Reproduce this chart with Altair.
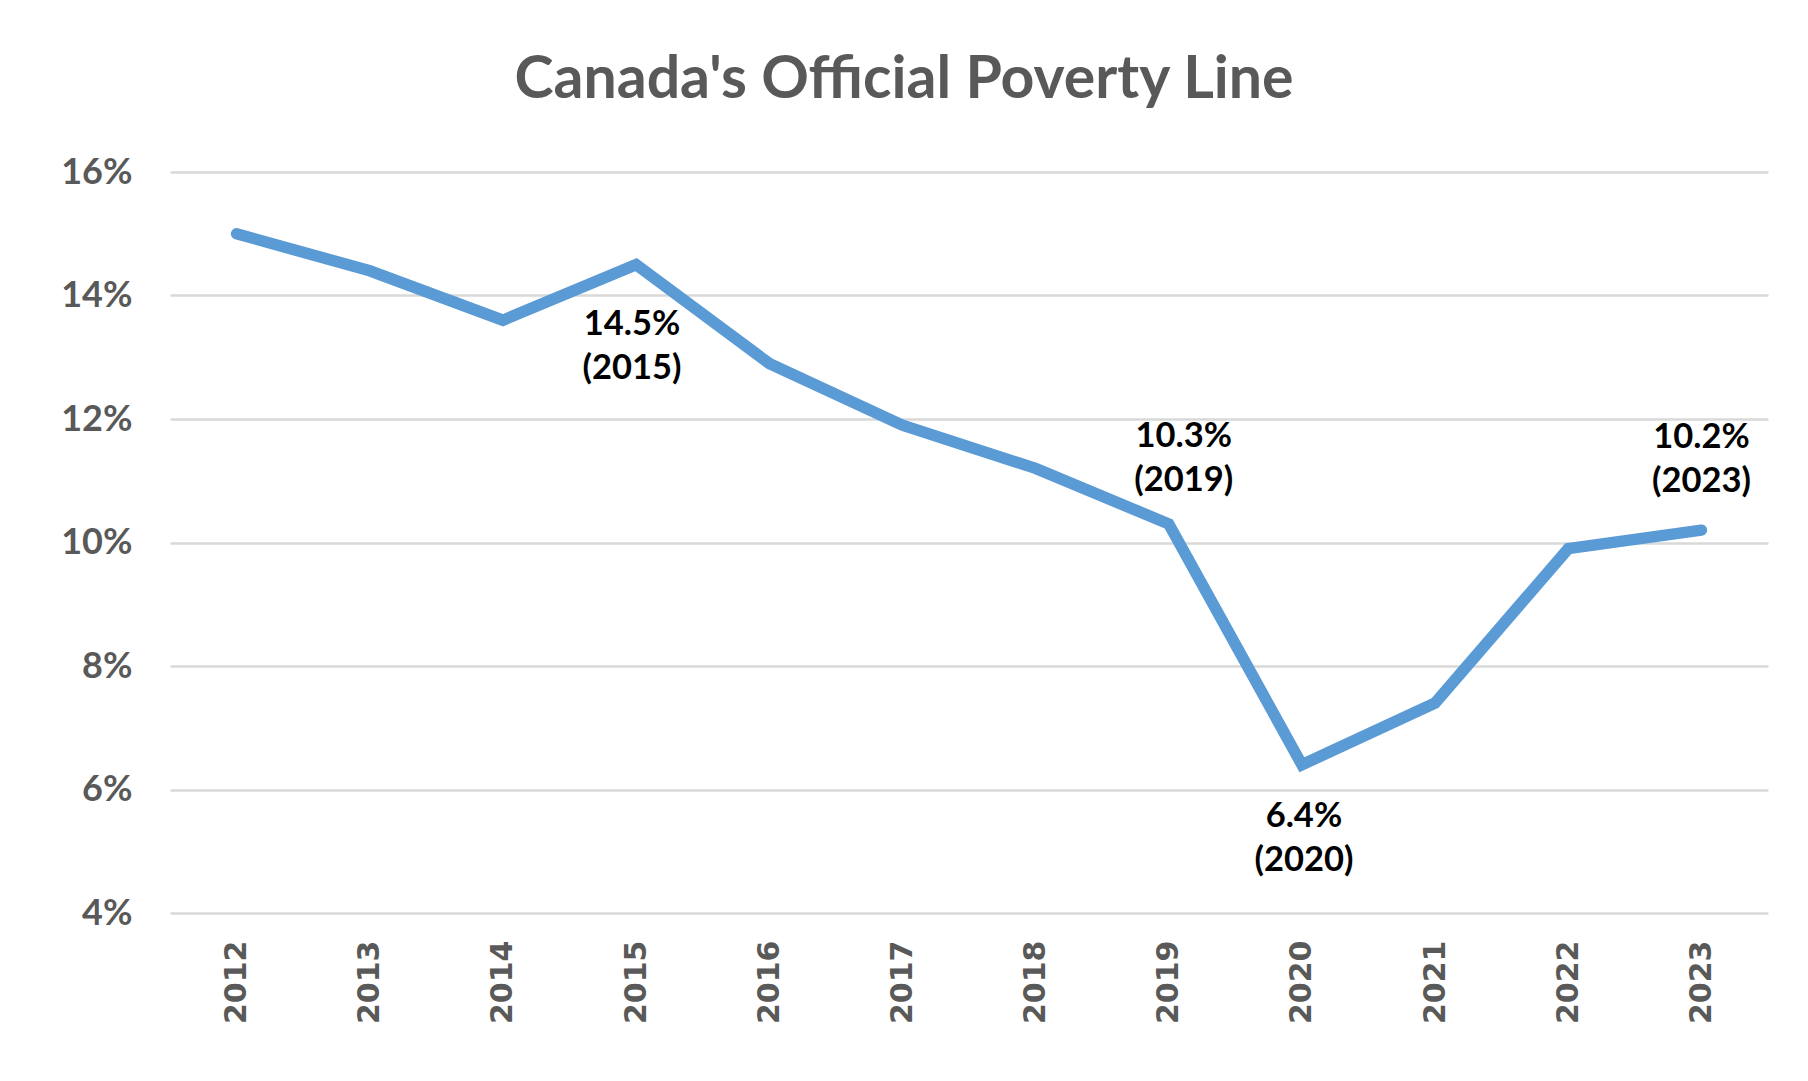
import altair as alt
import pandas as pd

years = ["2012", "2013", "2014", "2015", "2016", "2017", "2018", "2019", "2020", "2021", "2022", "2023"]
rates = [15.0, 14.4, 13.6, 14.5, 12.9, 11.9, 11.2, 10.3, 6.4, 7.4, 9.9, 10.2]

ann_years = ["2015", "2019", "2020", "2023"]
ann_text = ["14.5%\n(2015)", "10.3%\n(2019)", "6.4%\n(2020)", "10.2%\n(2023)"]

df = pd.DataFrame({"year": years, "rate": rates})
ann_df = pd.DataFrame({
    "year": ann_years,
    "rate": [rates[years.index(y)] for y in ann_years],
    "label": ann_text,
})

GRAY = "#595959"
x_enc = alt.X("year:N", sort=years,
              scale=alt.Scale(paddingInner=0, paddingOuter=0),
              axis=alt.Axis(title=None, labelAngle=-90, labelFont="DejaVu Sans",
                            labelFontWeight="bold", labelFontSize=30, labelColor=GRAY,
                            labelPadding=27, ticks=False, domain=False, grid=False))
y_enc = alt.Y("rate:Q", scale=alt.Scale(domain=[4, 16], nice=False, zero=False),
              axis=alt.Axis(title=None, values=[4, 6, 8, 10, 12, 14, 16],
                            labelExpr="datum.value + '%'", labelFont="Lato",
                            labelFontWeight="bold", labelFontSize=36, labelColor=GRAY,
                            labelPadding=38, ticks=False, domain=False,
                            grid=True, gridColor="#D9D9D9", gridWidth=2.5))

line = alt.Chart(df).mark_line(color="#5B9BD5", strokeWidth=11.5, strokeCap="round",
                               strokeJoin="miter").encode(x=x_enc, y=y_enc)

offsets = {"2015": (-4, 60), "2019": (15, -87), "2020": (2, 52), "2023": (0, -92)}
layers = [line]
for yr in ann_years:
    dx, dy = offsets[yr]
    t = alt.Chart(ann_df[ann_df["year"] == yr]).mark_text(
        font="Lato", fontWeight="bold", fontSize=34.5, color="#000000",
        lineBreak="\n", lineHeight=44, align="center", baseline="middle", dx=dx, dy=dy
    ).encode(x=alt.X("year:N", sort=years), y="rate:Q", text="label:N")
    layers.append(t)

chart = alt.layer(*layers).properties(
    width=1598, height=741,
    title=alt.TitleParams("Canada's Official Poverty Line", font="Lato", fontWeight="bold",
                          fontSize=59, color=GRAY, anchor="middle", dx=-65, offset=44),
    autosize=alt.AutoSizeParams(type="none"),
    padding={"left": 162, "top": 164, "right": 32, "bottom": 160},
    background="white",
).configure_view(stroke=None)

chart.save("out.html", embed_options={"renderer": "svg", "actions": False})
